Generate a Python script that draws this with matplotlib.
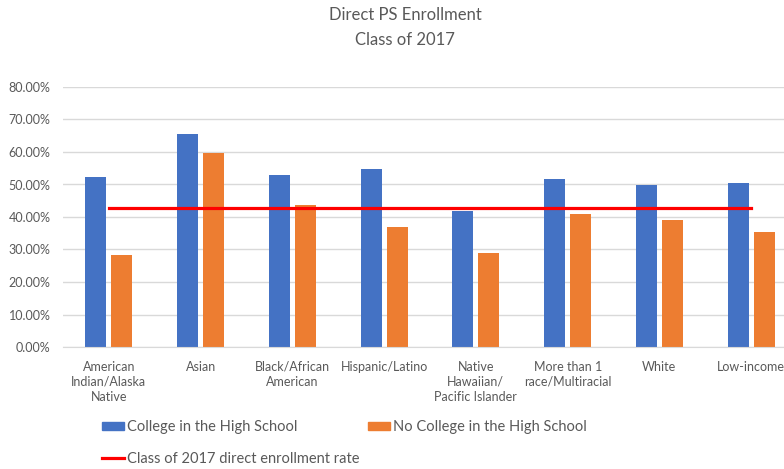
import numpy as np
import matplotlib.pyplot as plt
from matplotlib.patches import Patch
from matplotlib.lines import Line2D
from matplotlib.ticker import PercentFormatter

plt.rcParams['font.family'] = ['Lato', 'DejaVu Sans']

categories = ["American\nIndian/Alaska\nNative", "Asian", "Black/African\nAmerican",
              "Hispanic/Latino", "Native\nHawaiian/\nPacific Islander",
              "More than 1\nrace/Multiracial", "White", "Low-income"]
chs = [52.3, 65.6, 52.9, 54.8, 41.7, 51.8, 49.7, 50.6]
no_chs = [28.3, 59.7, 43.7, 36.8, 28.8, 40.8, 39.1, 35.3]
class_rate = 42.7

blue = "#4472C4"
orange = "#ED7D31"
grey = "#595959"

fig = plt.figure(figsize=(7.84, 4.69), dpi=100)
ax = fig.add_axes([63/784, 1 - 347/469, 734/784, 260/469])

x = np.arange(len(categories))
w = 0.23
ax.bar(x - 0.142, chs, w, color=blue, zorder=2)
ax.bar(x + 0.142, no_chs, w, color=orange, zorder=2)
ax.plot(x, [class_rate] * len(x), color="#FF0000", lw=2.3, zorder=3)

ax.set_xlim(-0.5, len(x) - 0.5)
ax.set_ylim(0, 80)
ax.set_yticks(np.arange(0, 81, 10))
ax.yaxis.set_major_formatter(PercentFormatter(decimals=2))
ax.grid(axis="y", color="#d9d9d9", lw=1, zorder=0)
ax.set_xticks(x)
ax.set_xticklabels(categories, linespacing=1.3)
ax.tick_params(axis="y", length=0, pad=9, labelsize=9, labelcolor=grey)
ax.tick_params(axis="x", length=0, pad=10, labelsize=9, labelcolor=grey)
for s in ["top", "right", "left"]:
    ax.spines[s].set_visible(False)
ax.spines["bottom"].set_color("#d9d9d9")

fig.text(405/784, 1 - 15/469, "Direct PS Enrollment", ha="center", va="center",
         fontsize=12, color=grey)
fig.text(405/784, 1 - 40/469, "Class of 2017", ha="center", va="center",
         fontsize=12, color=grey)

handles = [Patch(color=blue, label="College in the High School"),
           Line2D([], [], color="#FF0000", lw=2.3, label="Class of 2017 direct enrollment rate"),
           Patch(color=orange, label="No College in the High School")]
fig.legend(handles=handles, ncol=2, loc="upper left", bbox_to_anchor=(102/784, 1 - 420/469),
           frameon=False, fontsize=10.5, handlelength=1.5, handleheight=0.5,
           handletextpad=0.2, columnspacing=0.6, labelspacing=1.2, labelcolor=grey,
           borderaxespad=0, borderpad=0)

fig.savefig("out.png", dpi=100)
